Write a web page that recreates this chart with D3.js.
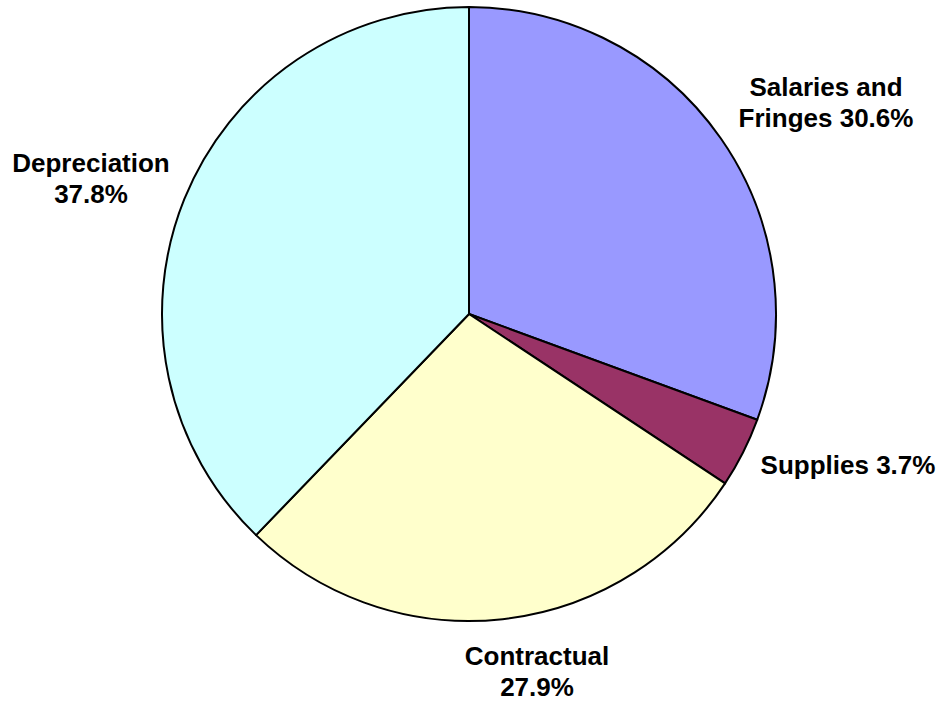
<!DOCTYPE html>
<html>
<head>
<meta charset="utf-8">
<script src="https://cdn.jsdelivr.net/npm/d3@7"></script>
<style>
body { margin: 0; background: #fff; }
text { font-family: "Liberation Sans", Arial, sans-serif; font-weight: bold; font-size: 26px; fill: #000; }
</style>
</head>
<body>
<div id="chart"></div>
<script>
"use strict"
var width = 943,
	height = 702;

// slices clockwise from 12 o'clock
var categories = ["Salaries and Fringes", "Supplies", "Contractual", "Depreciation"];
var values = [30.6, 3.7, 27.9, 37.8];
var colors = ["#9999FF", "#993366", "#FFFFCC", "#CCFFFF"];
// label lines, as printed
var labelLines = [
	["Salaries and", "Fringes 30.6%"],
	["Supplies 3.7%"],
	["Contractual", "27.9%"],
	["Depreciation", "37.8%"]
];
// label anchor (centre x, first baseline y)
var labelPos = [[826, 96], [848, 474], [537, 665], [91, 172]];

var cx = 469, cy = 314, r = 307;

var svg = d3.select("#chart").append("svg")
	.attr("width", width)
	.attr("height", height);

var pie = d3.pie().sort(null).value(function(d){ return d; });
var arc = d3.arc().innerRadius(0).outerRadius(r);

var g = svg.append("g").attr("transform", "translate(" + cx + "," + cy + ")");
g.selectAll("path")
	.data(pie(values))
	.enter().append("path")
	.attr("d", arc)
	.style("fill", function(d, i){ return colors[i]; })
	.style("stroke", "#000")
	.style("stroke-width", 2)
	.style("stroke-linejoin", "round");

var lbl = svg.selectAll("text.lbl")
	.data(labelLines)
	.enter().append("text")
	.attr("class", "lbl")
	.attr("text-anchor", "middle")
	.attr("x", function(d, i){ return labelPos[i][0]; })
	.attr("y", function(d, i){ return labelPos[i][1]; });
lbl.each(function(d, i){
	var t = d3.select(this);
	d.forEach(function(line, j){
		t.append("tspan")
			.attr("x", labelPos[i][0])
			.attr("dy", j === 0 ? 0 : 31)
			.text(line);
	});
});
</script>
</body>
</html>
